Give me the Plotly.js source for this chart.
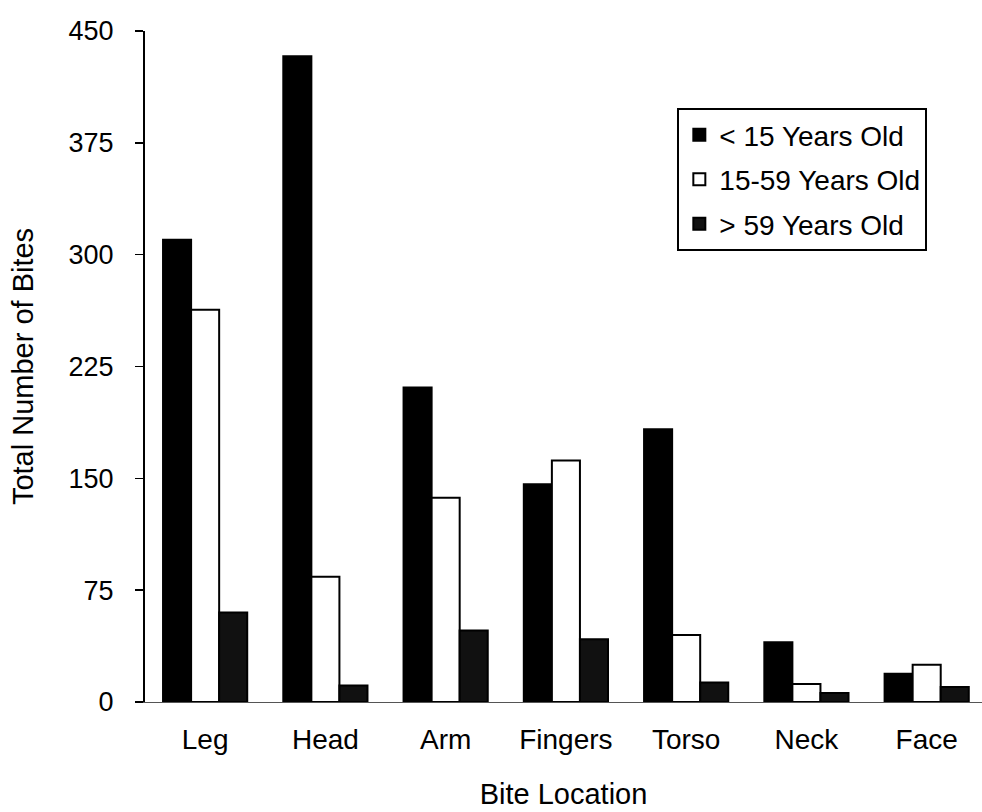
<!DOCTYPE html>
<html>
<head>
<meta charset="utf-8">
<script src="https://cdn.plot.ly/plotly-3.0.1.min.js"></script>
<style>
  html, body { margin: 0; padding: 0; background: #fff; }
  #chart { width: 982px; height: 812px; }
</style>
</head>
<body>
<div id="chart"></div>
<script>
const categories = ["Leg", "Head", "Arm", "Fingers", "Torso", "Neck", "Face"];
const under15 = [310, 433, 211, 146, 183, 40, 19];
const age15to59 = [263, 84, 137, 162, 45, 12, 25];
const over59 = [60, 11, 48, 42, 13, 6, 10];
const seriesNames = ["< 15 Years Old", "15-59 Years Old", "> 59 Years Old"];
const yTicks = [0, 75, 150, 225, 300, 375, 450];

const FONT = "Liberation Sans, Arial, Helvetica, sans-serif";

const traces = [
  { name: seriesNames[0], y: under15, color: "#000000", group: "a" },
  { name: seriesNames[1], y: age15to59, color: "#ffffff", group: "b" },
  { name: seriesNames[2], y: over59, color: "#111111", group: "c" }
].map(s => ({
  type: "bar",
  x: categories,
  y: s.y,
  name: s.name,
  legendgroup: s.group,
  marker: { color: s.color, line: { color: "#000000", width: 2 } },
  hoverinfo: "x+y+name"
}));

const layout = {
  width: 982,
  height: 812,
  margin: { l: 145, r: 0, t: 31, b: 110 },
  paper_bgcolor: "#ffffff",
  plot_bgcolor: "#ffffff",
  font: { family: FONT, color: "#000000", size: 26 },
  barmode: "group",
  bargap: 0.3,
  bargroupgap: 0,
  showlegend: true,
  legend: {
    x: 0.636, y: 0.885, xanchor: "left", yanchor: "top",
    bgcolor: "#ffffff", bordercolor: "#000000", borderwidth: 2,
    font: { family: FONT, size: 28, color: "#000000" },
    traceorder: "grouped",
    tracegroupgap: 5,
    itemwidth: 30
  },
  xaxis: {
    type: "category",
    range: [-0.5, 6.46],
    showline: true, linecolor: "#555555", linewidth: 1,
    ticks: "", showgrid: false, zeroline: false,
    tickfont: { family: FONT, size: 28, color: "#000000" },
    ticklabelstandoff: 12,
    title: { text: "Bite Location", font: { family: FONT, size: 29, color: "#000000" }, standoff: 30 }
  },
  yaxis: {
    range: [0, 450],
    tickvals: yTicks,
    ticktext: yTicks.map(String),
    showline: true, linecolor: "#000000", linewidth: 2,
    ticks: "outside", ticklen: 8, tickwidth: 1.5, tickcolor: "#000000",
    showgrid: false, zeroline: false,
    tickfont: { family: FONT, size: 27, color: "#000000" },
    ticklabelstandoff: 16,
    title: { text: "Total Number of Bites", font: { family: FONT, size: 29, color: "#000000" }, standoff: 26 }
  }
};

Plotly.newPlot("chart", traces, layout, { displayModeBar: false, staticPlot: true });
</script>
</body>
</html>
